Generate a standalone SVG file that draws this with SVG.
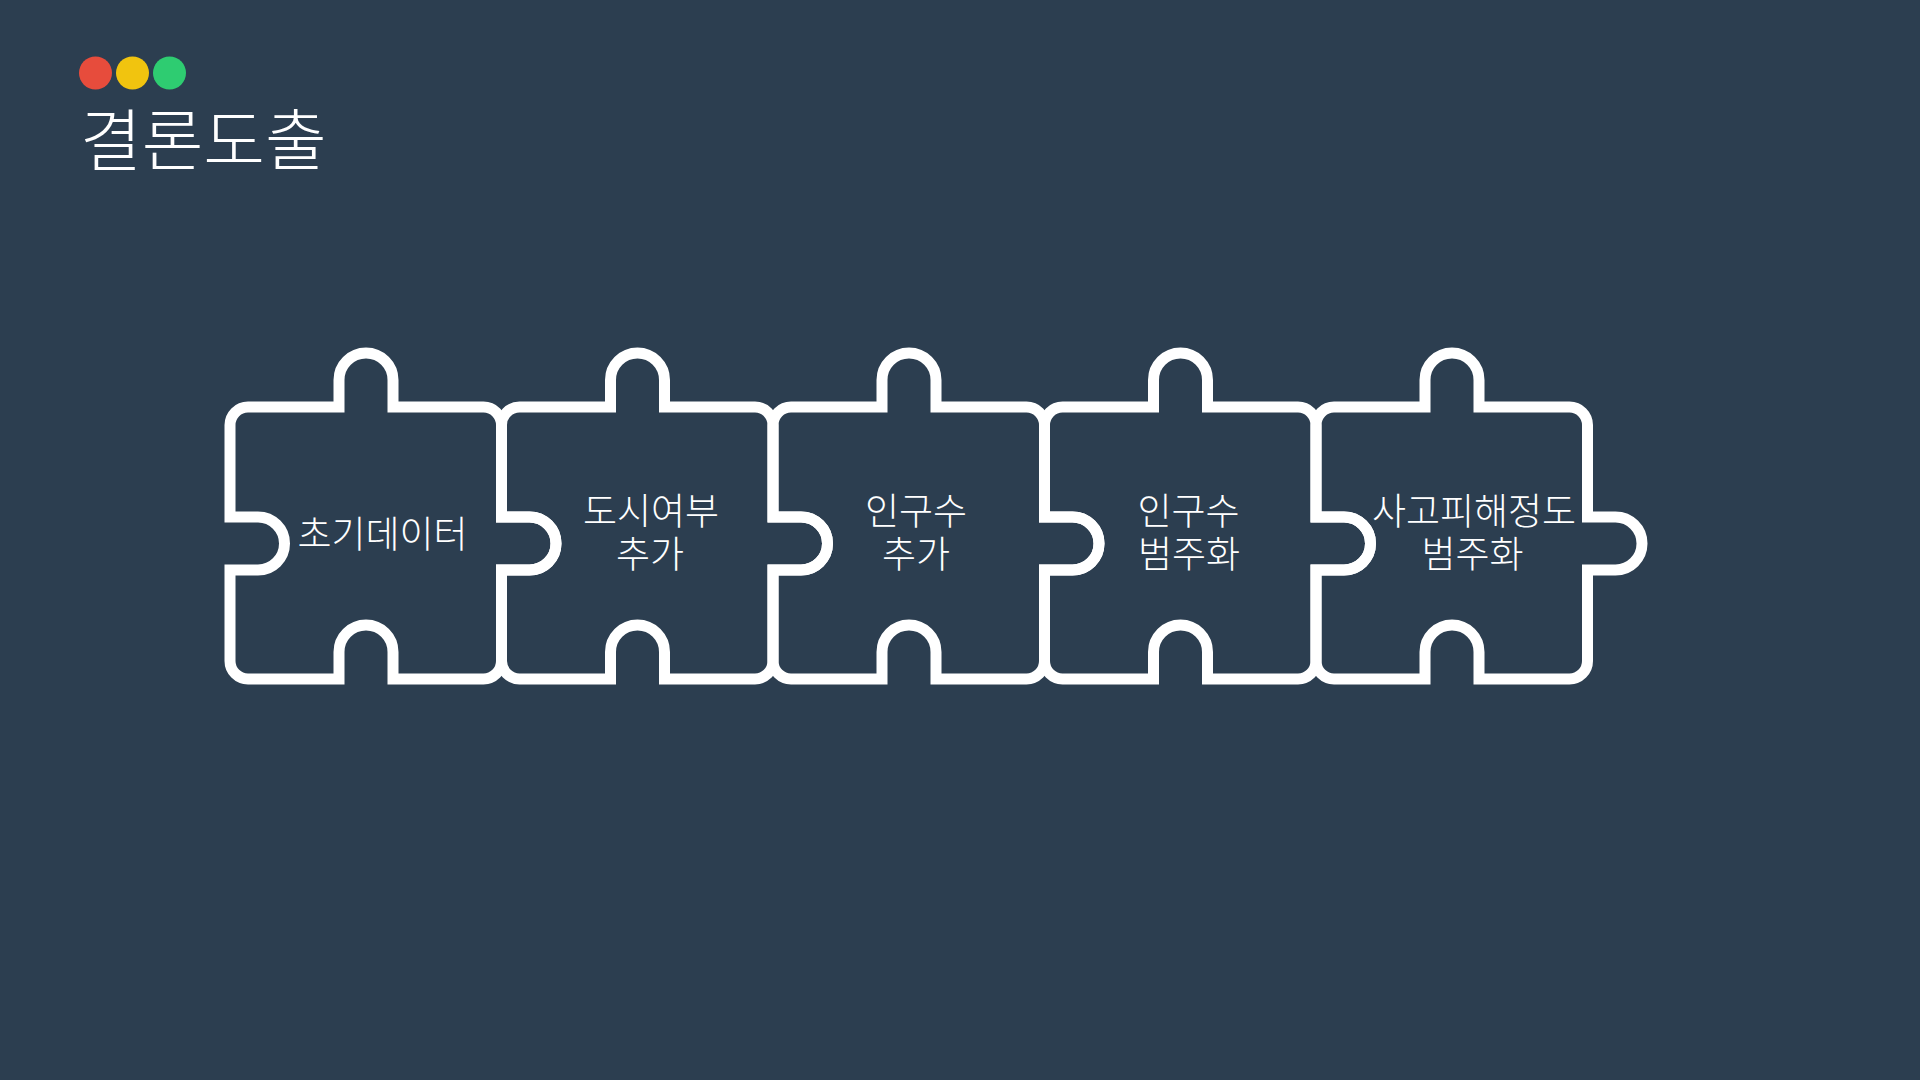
<svg xmlns="http://www.w3.org/2000/svg" width="1920" height="1080" viewBox="0 0 1920 1080">
<defs>
<style>
.bg{fill:#2c3e50}
.piece{fill:none;stroke:#ffffff;stroke-width:11}
.title{font-family:"Noto Sans CJK KR","Noto Sans",sans-serif;font-size:67px;font-weight:300;fill:#ffffff}
.lbl{font-family:"Noto Sans CJK KR","Noto Sans",sans-serif;font-size:37px;font-weight:300;fill:#ffffff;text-anchor:middle}
</style>
<path id="pz" d="M18,0 H109 V-27 A27,27 0 0 1 163,-27 V0 H253.5 A18,18 0 0 1 271.5,18 V110 H299.5 A26.5,26.5 0 0 1 299.5,163 H271.5 V254 A18,18 0 0 1 253.5,272 H163 V245 A27,27 0 0 0 109,245 V272 H18 A18,18 0 0 1 0,254 V163 H28 A26.5,26.5 0 0 0 28,110 H0 V18 A18,18 0 0 1 18,0 Z"/>
</defs>
<rect class="bg" x="0" y="0" width="1920" height="1080"/>
<g id="header">
<circle cx="95.5" cy="73" r="16.5" fill="#e74c3c"/>
<circle cx="132.5" cy="73" r="16.5" fill="#f1c40f"/>
<circle cx="169.5" cy="73" r="16.5" fill="#2ecc71"/>
<text class="title" x="80" y="165">결론도출</text>
</g>
<g id="connectors"></g>
<g id="node1">
<use href="#pz" class="piece" x="230" y="407"/>
<text class="lbl" x="382.5" y="548">초기데이터</text>
</g>
<g id="node2">
<use href="#pz" class="piece" x="501.5" y="407"/>
<text class="lbl" x="651" y="525">도시여부</text>
<text class="lbl" x="650" y="568">추가</text>
</g>
<g id="node3">
<use href="#pz" class="piece" x="773" y="407"/>
<text class="lbl" x="916" y="525">인구수</text>
<text class="lbl" x="916" y="568">추가</text>
</g>
<g id="node4">
<use href="#pz" class="piece" x="1044.5" y="407"/>
<text class="lbl" x="1188.5" y="525">인구수</text>
<text class="lbl" x="1189" y="568">범주화</text>
</g>
<g id="node5">
<use href="#pz" class="piece" x="1316" y="407"/>
<text class="lbl" x="1474" y="525">사고피해정도</text>
<text class="lbl" x="1472.5" y="568">범주화</text>
</g>
</svg>
